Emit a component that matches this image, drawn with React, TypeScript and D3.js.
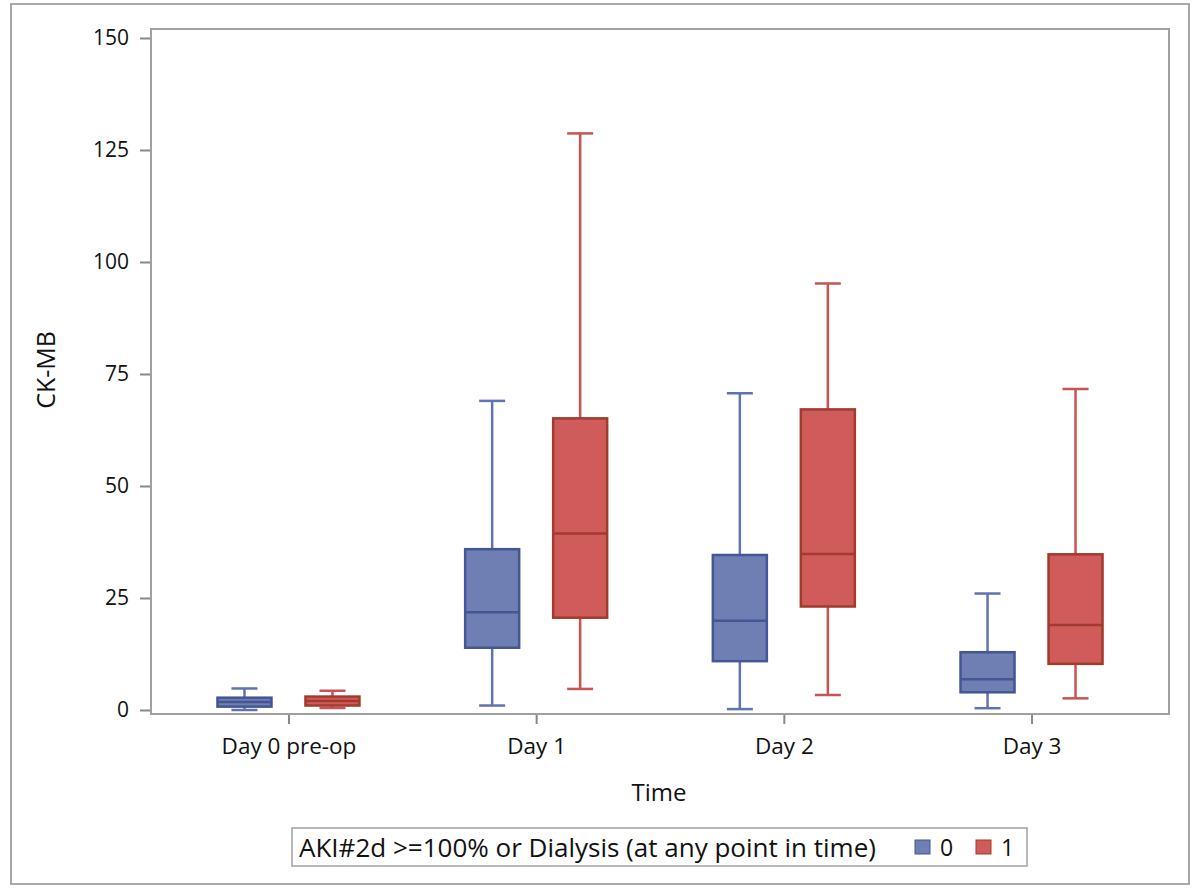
import { useEffect, useRef } from 'react';
import * as d3 from 'd3';

// box plot stats: [whisker low, q1, median, q3, whisker high]
const days = ['Day 0 pre-op', 'Day 1', 'Day 2', 'Day 3'];
const groups = ['0', '1'];
const group0 = [
    [0.0, 0.75, 1.8, 2.75, 4.8],
    [1.0, 13.9, 21.8, 35.9, 69.0],
    [0.2, 10.9, 19.9, 34.6, 70.7],
    [0.4, 3.95, 6.85, 12.9, 26.0],
];
const group1 = [
    [0.45, 1.0, 2.0, 3.0, 4.3],
    [4.7, 20.6, 39.4, 65.1, 128.7],
    [3.35, 23.1, 34.8, 67.1, 95.2],
    [2.6, 10.3, 19.0, 34.75, 71.65],
];
const yTicks = [0, 25, 50, 75, 100, 125, 150];
const legendTitle = 'AKI#2d >=100% or Dialysis (at any point in time)';

const fills = ['#6F7EB3', '#D05B5B'];
const outlines = ['#445694', '#A23A2E'];
const whiskers = ['#6272b0', '#c85452'];

function App() {
    const chartRef = useRef(null);

    useEffect(() => {
        createBoxPlot();
    }, []);

    function createBoxPlot() {
        const svg = d3.select(chartRef.current);
        svg.selectAll('*').remove();
        const font = "'Open Sans', sans-serif";

        const left = 151, right = 1169, top = 29, bottom = 714;

        const x = d3.scalePoint().domain(days).range([left, right]).padding(0.555);
        const y = d3.scaleLinear().domain([0, 150]).range([710, 38]);
        const inner = d3.scalePoint().domain(groups).range([-44, 44]);
        const boxW = 54;
        const capW = 26;

        // outer border
        svg.append('rect')
            .attr('x', 11).attr('y', 4).attr('width', 1178).attr('height', 880)
            .attr('fill', 'white').attr('stroke', '#a8a8a8').attr('stroke-width', 2);

        // plot frame
        svg.append('rect')
            .attr('x', left).attr('y', top).attr('width', right - left).attr('height', bottom - top)
            .attr('fill', 'none').attr('stroke', '#a0a0a0').attr('stroke-width', 2);

        // y axis
        const yAxis = svg.append('g')
            .attr('transform', `translate(${left - 1},0)`)
            .call(d3.axisLeft(y).tickValues(yTicks).tickSize(10).tickPadding(11));
        yAxis.select('.domain').remove();
        yAxis.selectAll('line').attr('stroke', '#888').attr('stroke-width', 2);
        yAxis.selectAll('text').attr('font-family', font).attr('font-size', 21).attr('fill', '#111');

        // x axis
        const xAxis = svg.append('g')
            .attr('transform', `translate(0,${bottom + 1})`)
            .call(d3.axisBottom(x).tickSize(9).tickPadding(14));
        xAxis.select('.domain').remove();
        xAxis.selectAll('line').attr('stroke', '#888').attr('stroke-width', 2);
        xAxis.selectAll('text').attr('font-family', font).attr('font-size', 22.5).attr('fill', '#111');

        // axis titles
        svg.append('text')
            .attr('transform', 'translate(55,370) rotate(-90)')
            .attr('text-anchor', 'middle')
            .attr('font-family', font).attr('font-size', 25).attr('fill', '#111')
            .text('CK-MB');
        svg.append('text')
            .attr('x', 659).attr('y', 801)
            .attr('text-anchor', 'middle')
            .attr('font-family', font).attr('font-size', 24).attr('fill', '#111')
            .text('Time');

        // boxes
        [group0, group1].forEach((series, gi) => {
            series.forEach((d, i) => {
                const cx = (x(days[i]) as number) + (inner(groups[gi]) as number);
                const [lo, q1, med, q3, hi] = d;
                const g = svg.append('g');

                // whiskers
                g.append('line')
                    .attr('x1', cx).attr('x2', cx).attr('y1', y(hi)).attr('y2', y(q3))
                    .attr('stroke', whiskers[gi]).attr('stroke-width', 2.5);
                g.append('line')
                    .attr('x1', cx).attr('x2', cx).attr('y1', y(q1)).attr('y2', y(lo))
                    .attr('stroke', whiskers[gi]).attr('stroke-width', 2.5);
                g.append('line')
                    .attr('x1', cx - capW / 2).attr('x2', cx + capW / 2).attr('y1', y(hi)).attr('y2', y(hi))
                    .attr('stroke', whiskers[gi]).attr('stroke-width', 2.5);
                g.append('line')
                    .attr('x1', cx - capW / 2).attr('x2', cx + capW / 2).attr('y1', y(lo)).attr('y2', y(lo))
                    .attr('stroke', whiskers[gi]).attr('stroke-width', 2.5);

                g.append('rect')
                    .attr('x', cx - boxW / 2).attr('y', y(q3))
                    .attr('width', boxW).attr('height', y(q1) - y(q3))
                    .attr('fill', fills[gi]).attr('stroke', outlines[gi]).attr('stroke-width', 2.5);
                g.append('line')
                    .attr('x1', cx - boxW / 2).attr('x2', cx + boxW / 2).attr('y1', y(med)).attr('y2', y(med))
                    .attr('stroke', outlines[gi]).attr('stroke-width', 2.5);
            });
        });

        // legend
        const legend = svg.append('g');
        legend.append('rect')
            .attr('x', 292).attr('y', 828).attr('width', 735).attr('height', 38)
            .attr('fill', 'white').attr('stroke', '#a0a0a0').attr('stroke-width', 1.5);
        legend.append('text')
            .attr('x', 299).attr('y', 857)
            .attr('font-family', font).attr('font-size', 26).attr('fill', '#111')
            .text(legendTitle);
        const swatchX = [915, 976];
        groups.forEach((gName, gi) => {
            legend.append('rect')
                .attr('x', swatchX[gi]).attr('y', 840).attr('width', 15).attr('height', 14)
                .attr('fill', fills[gi]).attr('stroke', outlines[gi]).attr('stroke-width', 1);
            legend.append('text')
                .attr('x', swatchX[gi] + 25).attr('y', 856)
                .attr('font-family', font).attr('font-size', 23).attr('fill', '#111')
                .text(gName);
        });
    }

    return <svg ref={chartRef} width="1197" height="888" style={{ position: 'absolute', left: 0, top: 0 }}></svg>;
}

export default App;
